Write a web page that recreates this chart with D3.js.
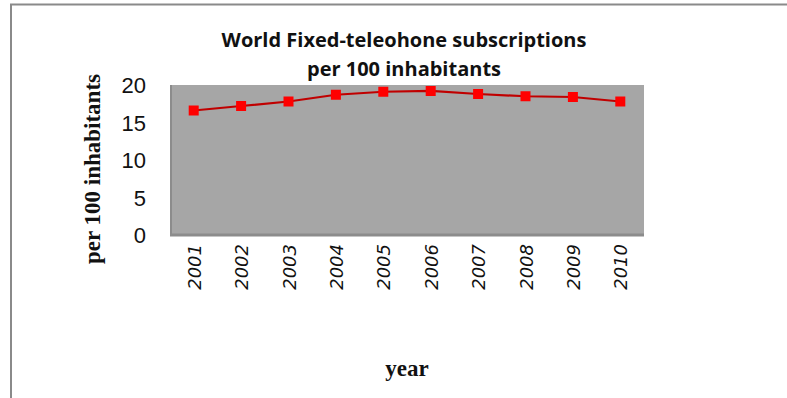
<!DOCTYPE html>
<html>
<script src="https://d3js.org/d3.v7.min.js"></script>

<head>
    <style>
        body {
            margin: 0;
            background-color: white;
        }

        svg {
            display: block;
        }
    </style>
</head>

<body>
</body>
<script>
    const years = ["2001", "2002", "2003", "2004", "2005", "2006", "2007", "2008", "2009", "2010"];
    const subscriptions = [16.6, 17.2, 17.8, 18.7, 19.1, 19.2, 18.8, 18.5, 18.4, 17.8];
    const yTicks = [0, 5, 10, 15, 20];

    const width = 787,
        height = 398;
    const svg = d3.select("body").append("svg").attr("width", width).attr("height", height);

    const plot = { left: 170, right: 644, top: 85, bottom: 235 };

    const x = d3.scaleBand()
        .domain(years)
        .range([plot.left, plot.right]);
    const y = d3.scaleLinear()
        .domain([0, 20])
        .range([plot.bottom, plot.top]);

    // outer frame (only top and left edges are visible)
    svg.append("path")
        .attr("d", `M11,${height} L11,4.5 L${width},4.5`)
        .attr("fill", "none")
        .attr("stroke", "#8a8a8a")
        .attr("stroke-width", 2);

    // plot area
    svg.append("rect")
        .attr("x", plot.left)
        .attr("y", plot.top)
        .attr("width", plot.right - plot.left)
        .attr("height", plot.bottom - plot.top)
        .attr("fill", "#a6a6a6");

    svg.append("line")
        .attr("x1", plot.left + 1).attr("x2", plot.left + 1)
        .attr("y1", plot.top).attr("y2", plot.bottom)
        .attr("stroke", "#8c8c8c").attr("stroke-width", 2);
    svg.append("line")
        .attr("x1", plot.left).attr("x2", plot.right)
        .attr("y1", plot.bottom).attr("y2", plot.bottom)
        .attr("stroke", "#8c8c8c").attr("stroke-width", 3);

    // y tick labels
    svg.selectAll(".ytick")
        .data(yTicks)
        .join("text")
        .attr("class", "ytick")
        .attr("x", 146)
        .attr("y", d => y(d) + 8)
        .attr("text-anchor", "end")
        .attr("font-family", "Liberation Sans, Arial, sans-serif")
        .attr("font-size", 22)
        .attr("fill", "#111")
        .text(d => d);

    // x tick labels, rotated
    svg.selectAll(".xtick")
        .data(years)
        .join("text")
        .attr("class", "xtick")
        .attr("transform", d => `translate(${x(d) + x.bandwidth() / 2 + 7},244) rotate(-90)`)
        .attr("text-anchor", "end")
        .attr("font-family", "DejaVu Sans, Verdana, sans-serif")
        .attr("font-style", "italic")
        .attr("font-size", 18)
        .attr("fill", "#111")
        .text(d => d);

    // line + markers
    const line = d3.line()
        .x((d, i) => x(years[i]) + x.bandwidth() / 2)
        .y(d => y(d));
    svg.append("path")
        .datum(subscriptions)
        .attr("d", line)
        .attr("fill", "none")
        .attr("stroke", "#c00000")
        .attr("stroke-width", 2.25);
    svg.selectAll(".marker")
        .data(subscriptions)
        .join("rect")
        .attr("class", "marker")
        .attr("x", (d, i) => x(years[i]) + x.bandwidth() / 2 - 5)
        .attr("y", d => y(d) - 5)
        .attr("width", 10)
        .attr("height", 10)
        .attr("fill", "#ff0000");

    // titles
    const title = svg.append("text")
        .attr("text-anchor", "middle")
        .attr("font-family", "Open Sans, Liberation Sans, sans-serif")
        .attr("font-weight", "bold")
        .attr("font-size", 20)
        .attr("fill", "#111");
    title.append("tspan").attr("x", 404).attr("y", 47).text("World Fixed-teleohone subscriptions");
    title.append("tspan").attr("x", 404).attr("y", 76).text("per 100 inhabitants");

    svg.append("text")
        .attr("transform", "translate(100,169) rotate(-90)")
        .attr("text-anchor", "middle")
        .attr("font-family", "Liberation Serif, Times New Roman, serif")
        .attr("font-weight", "bold")
        .attr("font-size", 23)
        .attr("fill", "#111")
        .text("per 100 inhabitants");

    svg.append("text")
        .attr("x", 407)
        .attr("y", 376)
        .attr("text-anchor", "middle")
        .attr("font-family", "Liberation Serif, Times New Roman, serif")
        .attr("font-weight", "bold")
        .attr("font-size", 23)
        .attr("fill", "#111")
        .text("year");
</script>

</html>
